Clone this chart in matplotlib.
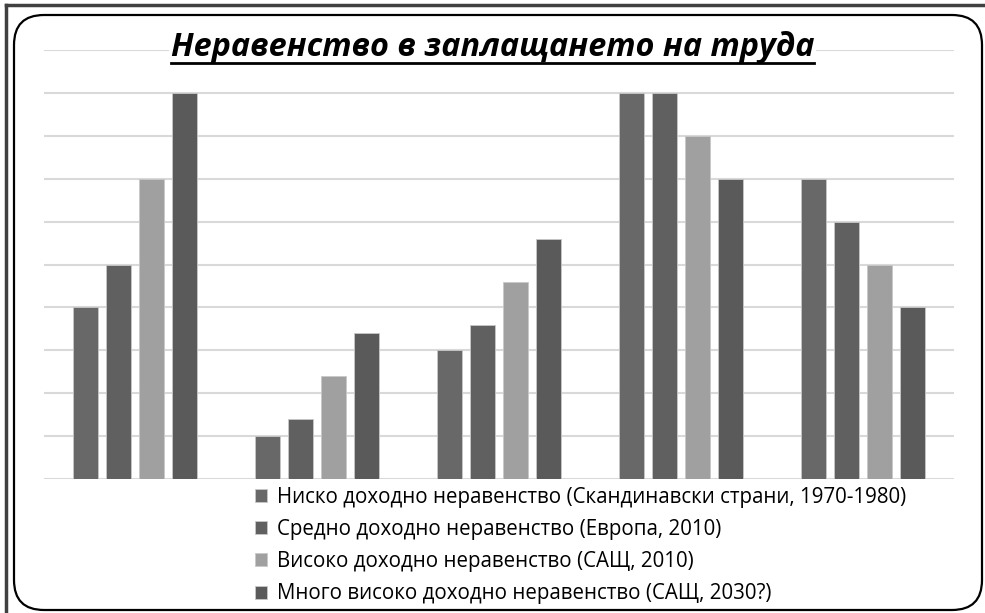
import numpy as np
import matplotlib.pyplot as plt
from matplotlib.patches import FancyBboxPatch, Patch
from matplotlib.lines import Line2D

plt.rcParams['font.family'] = ['Open Sans', 'DejaVu Sans']

# Data (no axis labels in the original, grid step = 1)
groups = ['G1', 'G2', 'G3', 'G4', 'G5']
low = [4, 1, 3, 9, 7]
medium = [5, 1.4, 3.6, 9, 6]
high = [7, 2.4, 4.6, 8, 5]
very_high = [9, 3.4, 5.6, 7, 4]

series_labels = [
    'Ниско доходно неравенство (Скандинавски страни, 1970-1980)',
    'Средно доходно неравенство (Европа, 2010)',
    'Високо доходно неравенство (САЩ, 2010)',
    'Много високо доходно неравенство (САЩ, 2030?)',
]
colors = ['#686868', '#606060', '#a0a0a0', '#5a5a5a']
title = 'Неравенство в заплащането на труда'

W, H = 985, 613
fig = plt.figure(figsize=(W / 100, H / 100), dpi=100)

# frame: dark outer lines (top + left) and rounded inner box
fig.add_artist(Line2D([6 / W, 1], [1 - 5 / H, 1 - 5 / H], color='#404040', lw=2.5))
fig.add_artist(Line2D([6 / W, 6 / W], [0, 1 - 5 / H], color='#404040', lw=2.5))
box = FancyBboxPatch((0.14, 0.03), 9.68, 5.95,
                     boxstyle='round,pad=0,rounding_size=0.3',
                     transform=fig.dpi_scale_trans,
                     fc='none', ec='black', lw=1.6)
fig.add_artist(box)

ax = fig.add_axes([44 / W, (H - 479) / H, (954 - 44) / W, (479 - 50) / H])
x = np.arange(len(groups))
width = 0.137
step = 0.181
data = [low, medium, high, very_high]
for i, (vals, c) in enumerate(zip(data, colors)):
    ax.bar(x + (i - 1.5) * step, vals, width, color=c,
           edgecolor='#c8c8c8', linewidth=0.6, zorder=3)

ax.set_xlim(-0.5, len(groups) - 0.5)
ax.set_ylim(0, 10)
ax.set_yticks(np.arange(0, 11, 1))
ax.grid(axis='y', color='#d9d9d9', lw=1.5, zorder=0)
ax.tick_params(left=False, bottom=False, labelleft=False, labelbottom=False)
for s in ax.spines.values():
    s.set_visible(False)

t = fig.text(0.5, 1 - 47 / H, title, ha='center', va='center',
             fontsize=23.3, fontweight='bold', fontstyle='italic',
             bbox=dict(fc='white', ec='none', pad=1), zorder=5)

handles = [Patch(fc=c, ec='#c8c8c8', lw=0.6) for c in colors]
leg = fig.legend(handles, series_labels, loc='upper left',
                 bbox_to_anchor=(255 / W, 1 - 487 / H), frameon=False,
                 fontsize=14.8, handlelength=0.6, handleheight=0.6,
                 handletextpad=0.45, labelspacing=0.54, borderpad=0,
                 borderaxespad=0)

# underline the title
fig.canvas.draw()
bb = t.get_window_extent()
y_ul = bb.y0 + 1
fig.add_artist(Line2D([bb.x0 / W, bb.x1 / W], [y_ul / H, y_ul / H],
                      color='black', lw=2, zorder=6))

fig.savefig('out.png', dpi=100)
